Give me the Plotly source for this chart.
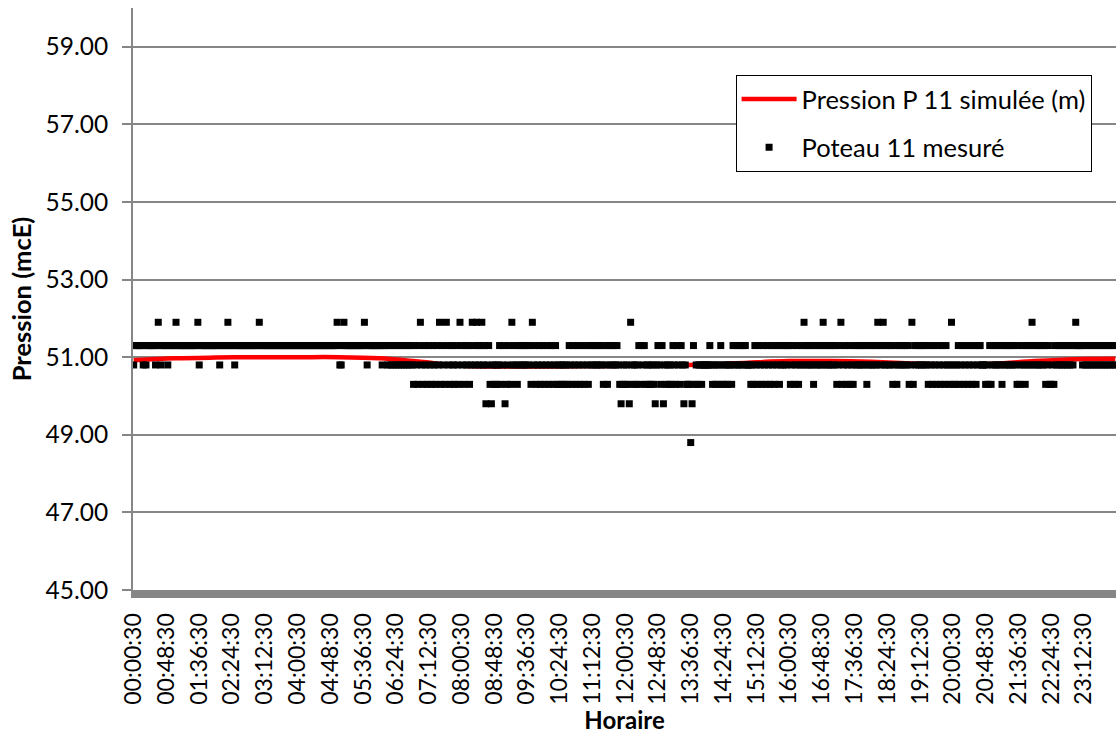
import plotly.graph_objects as go

# Niveaux de pression relevés au poteau 11 (mcE)
niveaux = [48.8, 49.8, 50.3, 50.8, 51.3, 51.9]

# Relevés toutes les 2 minutes, une ligne par tranche de 48 minutes (24 relevés),
# chaque chiffre est l'indice du niveau dans `niveaux`
releves = [
    "344444434344444434543444",  # 00:00:30
    "434444454444444444444445",  # 00:48:30
    "344444444444444344444544",  # 01:36:30
    "443444444444444444445444",  # 02:24:30
    "444444444444444444444444",  # 03:12:30
    "444444444444444444444444",  # 04:00:30
    "444445433454444444444444",  # 04:48:30
    "454344444444443444343434",  # 05:36:30
    "343434343434324324532432",  # 06:24:30
    "432432435243254324324325",  # 07:12:30
    "432434235435434534134213",  # 08:00:30
    "232342341234253432434343",  # 08:48:30
    "434253423423423423423423",  # 09:36:30
    "232323243243243243243243",  # 10:24:30
    "434343432432434343432123",  # 11:12:30
    "232153232342434232323213",  # 12:00:30
    "432413232324324324313222",  # 12:48:30
    "014232332333334323232342",  # 13:36:30
    "323233243434343443332324",  # 14:24:30
    "324324324324324342343434",  # 15:12:30
    "423423423435434343243434",  # 16:00:30
    "354343434342345234234232",  # 16:48:30
    "434343434234343435434534",  # 17:36:30
    "343423423434343423524343",  # 18:24:30
    "434343243243243243243235",  # 19:12:30
    "232342342342342342344333",  # 20:00:30
    "232423434343243434343432",  # 20:48:30
    "423432434354343434342342",  # 21:36:30
    "232434343434343434544443",  # 22:24:30
    "434343434343434343434343",  # 23:12:30
]
for bloc in releves:
    assert len(bloc) == 24, bloc

# Pression simulée au noeud P 11 (m), pas horaire
heures_sim = [
    "00:00:30", "01:00:30", "02:00:30", "03:00:30", "04:00:30", "05:00:30",
    "06:00:30", "07:00:30", "08:00:30", "09:00:30", "10:00:30", "11:00:30",
    "12:00:30", "13:00:30", "14:00:30", "15:00:30", "16:00:30", "17:00:30",
    "18:00:30", "19:00:30", "20:00:30", "21:00:30", "22:00:30", "23:00:30",
    "23:58:30",
]
pression_sim = [
    50.92, 50.97, 50.99, 51.00, 51.00, 51.00,
    50.97, 50.88, 50.78, 50.76, 50.76, 50.77,
    50.78, 50.79, 50.81, 50.86, 50.90, 50.90,
    50.88, 50.84, 50.81, 50.83, 50.90, 50.95,
    50.96,
]

# Axe horaire : un relevé toutes les 2 minutes à partir de 00:00:30
horaires = []
for i in range(720):
    s = 30 + 120 * i
    horaires.append(f"{s // 3600:02d}:{s % 3600 // 60:02d}:{s % 60:02d}")

pression_mesuree = [niveaux[int(c)] for c in "".join(releves)]

graduations_y = [45, 47, 49, 51, 53, 55, 57, 59]

POLICE = "Lato, 'Liberation Sans', sans-serif"
GRIS = "#868686"

fig = go.Figure()
fig.add_trace(go.Scatter(
    x=heures_sim, y=pression_sim, mode="lines",
    name="Pression P 11 simulée (m)",
    line=dict(color="#FF0000", width=4.5, shape="spline"),
    legendgroup="sim",
))
fig.add_trace(go.Scatter(
    x=horaires, y=pression_mesuree, mode="markers",
    name="Poteau 11 mesuré",
    marker=dict(symbol="square", size=7, color="black"),
    legendgroup="mes",
))

fig.update_layout(
    width=1116, height=740,
    margin=dict(l=133, r=0, t=8, b=150),
    paper_bgcolor="white", plot_bgcolor="white",
    font=dict(family=POLICE, size=24.5, color="black"),
    showlegend=True,
    legend=dict(
        x=0.613, y=0.885, xanchor="left", yanchor="top",
        bgcolor="white", bordercolor="black", borderwidth=1,
        font=dict(size=25.5), tracegroupgap=12, itemwidth=55,
        traceorder="grouped",
    ),
)
fig.update_xaxes(
    type="category", categoryorder="array", categoryarray=horaires,
    tickmode="array", tickvals=horaires[::24], ticktext=horaires[::24],
    tickangle=-90, ticks="", showgrid=False, zeroline=False,
    tickfont=dict(size=23),
    showline=True, linecolor=GRIS, linewidth=8, ticklabelstandoff=6,
    range=[-0.5, 719.5],
    title=dict(text="<b>Horaire</b>", font=dict(size=24), standoff=4),
)
fig.update_yaxes(
    range=[45, 60], tickmode="array", tickvals=graduations_y, tickformat=".2f",
    showgrid=True, gridcolor=GRIS, gridwidth=1.5, zeroline=False,
    showline=True, linecolor=GRIS, linewidth=2,
    ticks="outside", ticklen=9, tickcolor=GRIS, tickwidth=1.5,
    ticklabelstandoff=9,
    title=dict(text="<b>Pression (mcE)</b>", font=dict(size=25.5), standoff=7),
)

fig.write_html("out.html")
